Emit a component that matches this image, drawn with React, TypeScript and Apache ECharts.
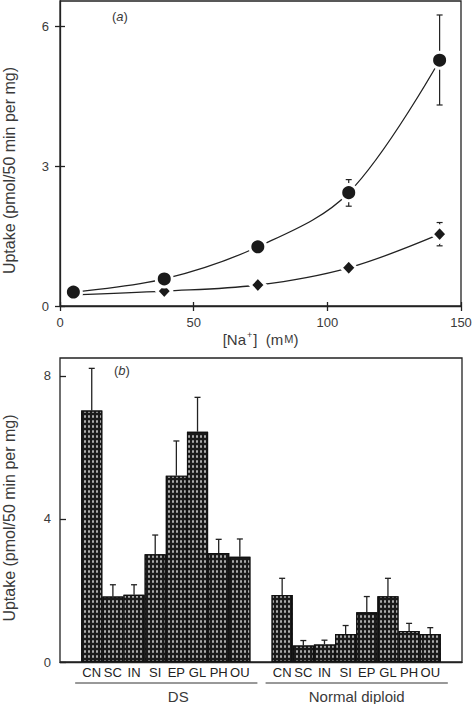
import React, { useEffect, useRef } from "react";
import * as echarts from "echarts";

// ---- Panel (a): uptake vs [Na+] ----
const naConc = [5, 39, 74, 108, 142];
const uptakeCircle = [0.3, 0.58, 1.27, 2.43, 5.27];
const uptakeDiamond = [0.24, 0.32, 0.45, 0.82, 1.54];
const circleErrLow = [null, null, null, 2.14, 4.31];
const circleErrHigh = [null, null, null, 2.71, 6.24];
const diamondErrLow = [null, null, null, null, 1.29];
const diamondErrHigh = [null, null, null, null, 1.79];
const topXTicks = [0, 50, 100, 150];
const topYTicks = [0, 3, 6];

// ---- Panel (b): uptake by tissue ----
const tissues = ["CN", "SC", "IN", "SI", "EP", "GL", "PH", "OU"];
const groupNames = ["DS", "Normal diploid"];
const dsUptake = [7.03, 1.83, 1.88, 3.01, 5.21, 6.44, 3.05, 2.94];
const dsErrTop = [8.21, 2.16, 2.16, 3.55, 6.18, 7.4, 3.43, 3.44];
const ndUptake = [1.87, 0.46, 0.49, 0.78, 1.39, 1.84, 0.87, 0.78];
const ndErrTop = [2.34, 0.6, 0.61, 1.02, 1.83, 2.34, 1.08, 0.96];
const bottomYTicks = [0, 4, 8];

const FONT = "'Liberation Sans', Arial, Helvetica, sans-serif";
const INK = "#222";
const TXT = "#3a3a3a";

// categories with blank slots at the edges and between the groups
const categories = ["", ...tissues, "", ...tissues, ""];
const barValues = [null, ...dsUptake, null, ...ndUptake, null];
const barErr = [null, ...dsErrTop, null, ...ndErrTop, null];
const dsStart = 1;
const ndStart = tissues.length + 2;

export default function App() {
  const ref = useRef<HTMLDivElement>(null);

  useEffect(() => {
    const chart = echarts.init(ref.current!, null, { renderer: "svg" });

    const valueAxisCommon = {
      splitLine: { show: false },
      axisLine: { lineStyle: { color: INK, width: 1.3 } },
      axisTick: { length: 5, lineStyle: { color: INK, width: 1.3 } },
      axisLabel: { color: TXT, fontSize: 13, fontFamily: FONT },
    };

    const topErrData: any[] = [];
    naConc.forEach((x, i) => {
      if (circleErrLow[i] != null) topErrData.push([x, circleErrLow[i], circleErrHigh[i]]);
      if (diamondErrLow[i] != null) topErrData.push([x, diamondErrLow[i], diamondErrHigh[i]]);
    });

    const barErrData: any[] = [];
    barValues.forEach((v, i) => {
      if (v != null) barErrData.push([i, v, barErr[i]]);
    });

    const yTitleStyle = (pad: number) => ({
      color: TXT,
      fontSize: 16,
      fontFamily: FONT,
      padding: [0, pad, 0, 0],
    });

    const option: any = {
      animation: false,
      backgroundColor: "#fff",
      grid: [
        { left: 60, right: 11, top: 1, bottom: 398, show: true, borderColor: INK, borderWidth: 1.3, containLabel: false, outerBoundsMode: "none" },
        { left: 60, right: 10, top: 358, bottom: 42, show: true, borderColor: INK, borderWidth: 1.3, containLabel: false, outerBoundsMode: "none" },
      ],
      xAxis: [
        {
          type: "value",
          gridIndex: 0,
          min: 0,
          max: 150,
          position: "bottom",
          ...valueAxisCommon,
          axisTick: { ...valueAxisCommon.axisTick, customValues: topXTicks },
          axisLabel: { ...valueAxisCommon.axisLabel, margin: 10, customValues: topXTicks },
          name: "{t|[Na}{s|+}{t|]  (m}{c|M}{t|)}",
          nameLocation: "middle",
          nameGap: 24,
          nameTextStyle: {
            color: TXT,
            fontFamily: FONT,
            rich: {
              t: { fontSize: 15, fontFamily: FONT, color: TXT },
              s: { fontSize: 9, fontFamily: FONT, color: TXT, padding: [0, 1, 9, 1] },
              c: { fontSize: 11, fontFamily: FONT, color: TXT, padding: [0, 0, 0, 1] },
            },
          },
        },
        {
          type: "value",
          gridIndex: 0,
          min: 0,
          max: 150,
          position: "bottom",
          axisLine: { show: false },
          splitLine: { show: false },
          axisLabel: { show: false },
          axisTick: { show: true, inside: true, length: 4, lineStyle: { color: INK, width: 1.3 }, customValues: topXTicks },
        },
        {
          type: "category",
          gridIndex: 1,
          data: categories,
          position: "bottom",
          axisLine: { lineStyle: { color: INK, width: 1.3 } },
          axisTick: { show: false },
          axisLabel: { color: INK, fontSize: 13, fontFamily: FONT, margin: 4, interval: 0 },
          splitLine: { show: false },
        },
      ],
      yAxis: [
        {
          type: "value",
          gridIndex: 0,
          min: 0,
          max: 6.54,
          ...valueAxisCommon,
          axisTick: { ...valueAxisCommon.axisTick, customValues: topYTicks },
          axisLabel: { ...valueAxisCommon.axisLabel, margin: 11, customValues: topYTicks },
          name: "Uptake (pmol/50 min per mg)",
          nameLocation: "middle",
          nameRotate: 90,
          nameGap: 43,
          nameTextStyle: yTitleStyle(34),
        },
        {
          type: "value",
          gridIndex: 0,
          min: 0,
          max: 6.54,
          position: "left",
          axisLine: { show: false },
          splitLine: { show: false },
          axisLabel: { show: false },
          axisTick: { show: true, inside: true, length: 5, lineStyle: { color: INK, width: 1.3 }, customValues: topYTicks },
        },
        {
          type: "value",
          gridIndex: 1,
          min: 0,
          max: 8.5,
          ...valueAxisCommon,
          axisTick: { ...valueAxisCommon.axisTick, length: 3, customValues: bottomYTicks },
          axisLabel: { ...valueAxisCommon.axisLabel, margin: 9, customValues: bottomYTicks },
          name: "Uptake (pmol/50 min per mg)",
          nameLocation: "middle",
          nameRotate: 90,
          nameGap: 43,
          nameTextStyle: yTitleStyle(16),
        },
        {
          type: "value",
          gridIndex: 1,
          min: 0,
          max: 8.5,
          position: "left",
          axisLine: { show: false },
          splitLine: { show: false },
          axisLabel: { show: false },
          axisTick: { show: true, inside: true, length: 6, lineStyle: { color: INK, width: 1.3 }, customValues: bottomYTicks },
        },
      ],
      series: [
        {
          type: "custom",
          name: "errA",
          xAxisIndex: 0,
          yAxisIndex: 0,
          z: 1,
          data: topErrData,
          renderItem: (params: any, api: any) => {
            const lo = api.coord([api.value(0), api.value(1)]);
            const hi = api.coord([api.value(0), api.value(2)]);
            const w = 3;
            const st = { stroke: INK, lineWidth: 1.2 };
            return {
              type: "group",
              children: [
                { type: "line", shape: { x1: lo[0], y1: lo[1], x2: hi[0], y2: hi[1] }, style: st },
                { type: "line", shape: { x1: lo[0] - w, y1: lo[1], x2: lo[0] + w, y2: lo[1] }, style: st },
                { type: "line", shape: { x1: hi[0] - w, y1: hi[1], x2: hi[0] + w, y2: hi[1] }, style: st },
              ],
            };
          },
        },
        {
          type: "line",
          name: "diamond",
          xAxisIndex: 0,
          yAxisIndex: 0,
          z: 3,
          data: naConc.map((x, i) => [x, uptakeDiamond[i]]),
          smooth: 0.35,
          symbol: "diamond",
          symbolSize: [15, 16],
          lineStyle: { color: INK, width: 1.3 },
          itemStyle: { color: "#1a1a1a", borderColor: "#fff", borderWidth: 3 },
        },
        {
          type: "line",
          name: "circle",
          xAxisIndex: 0,
          yAxisIndex: 0,
          z: 4,
          data: naConc.map((x, i) => [x, uptakeCircle[i]]),
          smooth: 0.35,
          symbol: "circle",
          symbolSize: 16,
          lineStyle: { color: INK, width: 1.3 },
          itemStyle: { color: "#1a1a1a", borderColor: "#fff", borderWidth: 3 },
        },
        {
          type: "bar",
          name: "bars",
          xAxisIndex: 2,
          yAxisIndex: 2,
          z: 2,
          data: barValues,
          barWidth: "100%",
          barCategoryGap: 0,
          itemStyle: {
            color: "#1a1a1a",
            borderColor: "#111",
            borderWidth: 1.2,
            decal: {
              symbol: "rect",
              symbolSize: 0.8,
              color: "rgba(255,255,255,0.8)",
              dashArrayX: [2, 2],
              dashArrayY: [3, 2],
              rotation: 0,
            },
          },
        },
        {
          type: "custom",
          name: "errB",
          xAxisIndex: 2,
          yAxisIndex: 2,
          z: 1,
          data: barErrData,
          renderItem: (params: any, api: any) => {
            const lo = api.coord([api.value(0), api.value(1)]);
            const hi = api.coord([api.value(0), api.value(2)]);
            const w = 3;
            const st = { stroke: INK, lineWidth: 1.3 };
            return {
              type: "group",
              children: [
                { type: "line", shape: { x1: lo[0], y1: lo[1], x2: hi[0], y2: hi[1] }, style: st },
                { type: "line", shape: { x1: hi[0] - w, y1: hi[1], x2: hi[0] + w, y2: hi[1] }, style: st },
              ],
            };
          },
        },
      ],
    };

    chart.setOption(option);

    const px = (i: number) => chart.convertToPixel({ xAxisIndex: 2 }, i) as number;
    const slot = px(2) - px(1);
    const groupStarts = [dsStart, ndStart];
    const lineY = 683;
    const elements: any[] = [
      {
        id: "labA",
        type: "text",
        x: 112,
        y: 10,
        style: { text: "({i|a})", fontSize: 13, fontFamily: FONT, fill: TXT, rich: { i: { fontStyle: "italic", fontSize: 13, fontFamily: FONT, fill: TXT } } },
      },
      {
        id: "labB",
        type: "text",
        x: 114,
        y: 364,
        style: { text: "({i|b})", fontSize: 13, fontFamily: FONT, fill: TXT, rich: { i: { fontStyle: "italic", fontSize: 13, fontFamily: FONT, fill: TXT } } },
      },
    ];
    groupStarts.forEach((s, g) => {
      const x1 = px(s) - slot / 2 - 6;
      const x2 = px(s + tissues.length - 1) + slot / 2 + 7;
      elements.push({
        id: "gl" + g,
        type: "line",
        shape: { x1, y1: lineY, x2, y2: lineY },
        style: { stroke: "#333", lineWidth: 1 },
      });
      elements.push({
        id: "gt" + g,
        type: "text",
        x: (x1 + x2) / 2 + (g === 0 ? 12 : 0),
        y: 696,
        style: { text: groupNames[g], fontSize: 15, fontFamily: FONT, fill: TXT, align: "center", verticalAlign: "middle" },
      });
    });
    chart.setOption({ graphic: { elements } });

    return () => chart.dispose();
  }, []);

  return <div ref={ref} style={{ position: "fixed", left: 0, top: 0, width: 472, height: 704 }} />;
}
